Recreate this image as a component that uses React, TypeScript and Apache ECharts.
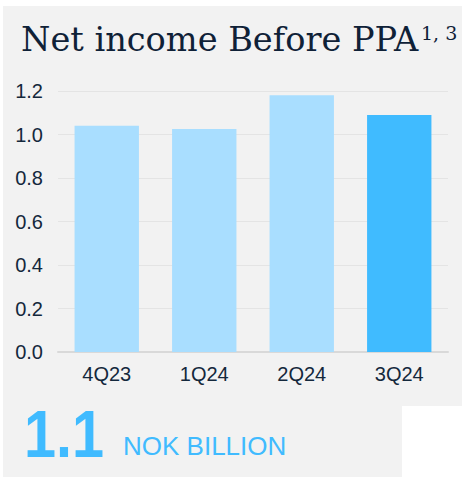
import React, { useEffect, useRef } from "react";
import * as echarts from "echarts";

const categories = ["4Q23", "1Q24", "2Q24", "3Q24"];
const values = [1.04, 1.025, 1.18, 1.09];
const barColors = ["#a9deff", "#a9deff", "#a9deff", "#40bbff"];
const yTicks = [0, 0.2, 0.4, 0.6, 0.8, 1.0, 1.2];
const titleText = "Net income Before PPA";
const titleSup = "1, 3";
const kpiValue = "1.1";
const kpiUnit = "NOK BILLION";

export default function App() {
  const ref = useRef<HTMLDivElement>(null);
  useEffect(() => {
    if (!ref.current) return;
    const chart = echarts.init(ref.current, null, { renderer: "svg" });
    chart.setOption({
      animation: false,
      backgroundColor: "transparent",
      grid: { left: 58, right: 14, top: 91, bottom: 125, containLabel: false },
      xAxis: {
        type: "category",
        data: categories,
        axisLine: { show: true, lineStyle: { color: "#d9d9d9", width: 2 } },
        axisTick: { show: false },
        axisLabel: {
          color: "#14283c",
          fontFamily: "Liberation Sans, Arial, sans-serif",
          fontSize: 20,
          margin: 12,
        },
      },
      yAxis: {
        type: "value",
        min: yTicks[0],
        max: yTicks[yTicks.length - 1],
        interval: 0.2,
        axisLine: { show: false },
        axisTick: { show: false },
        splitLine: { show: true, lineStyle: { color: "#e4e4e4", width: 1 } },
        axisLabel: {
          color: "#14283c",
          fontFamily: "Liberation Sans, Arial, sans-serif",
          fontSize: 20,
          margin: 15,
          formatter: (v: number) => v.toFixed(1),
        },
      },
      series: [
        {
          type: "bar",
          data: values.map((v, i) => ({ value: v, itemStyle: { color: barColors[i] } })),
          barWidth: "66%",
        },
      ],
      graphic: [
        {
          type: "text",
          x: 21,
          y: 22,
          style: {
            text: titleText,
            fill: "#0f2137",
            font: "33.6px 'DejaVu Serif', 'Liberation Serif', serif",
          },
        },
        {
          type: "text",
          x: 421,
          y: 23,
          style: {
            text: titleSup,
            fill: "#0f2137",
            font: "19px 'DejaVu Serif', 'Liberation Serif', serif",
          },
        },
        {
          type: "text",
          x: 24,
          y: 400,
          scaleX: 0.86,
          style: {
            text: kpiValue,
            fill: "#40bbff",
            font: "bold 67px 'Liberation Sans', Arial, sans-serif",
          },
        },
        {
          type: "text",
          x: 123,
          y: 433,
          style: {
            text: kpiUnit,
            fill: "#40bbff",
            font: "26px 'Liberation Sans', Arial, sans-serif",
          },
        },
      ],
    });
    return () => chart.dispose();
  }, []);
  return (
    <div style={{ position: "fixed", left: 0, top: 0, width: 462, height: 477, background: "#ffffff", overflow: "hidden" }}>
      <div style={{ position: "absolute", left: 3, top: 6, width: 459, height: 471, background: "#f2f2f2" }} />
      <div style={{ position: "absolute", left: 402, top: 406, width: 60, height: 71, background: "#ffffff" }} />
      <div ref={ref} style={{ position: "absolute", left: 0, top: 0, width: 462, height: 477 }} />
    </div>
  );
}
